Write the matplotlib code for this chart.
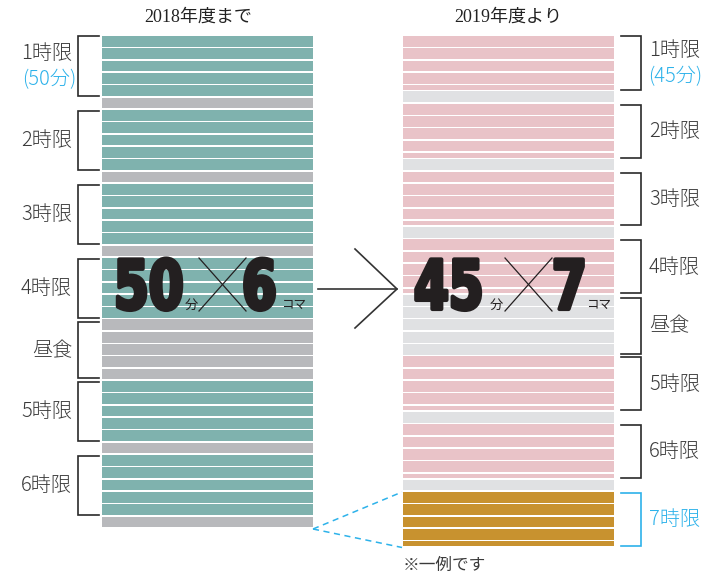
import matplotlib
matplotlib.use("Agg")
import matplotlib.pyplot as plt
from matplotlib.patheffects import AbstractPathEffect
from matplotlib.transforms import Affine2D

plt.rcParams['font.family'] = ['Noto Sans CJK JP', 'DejaVu Sans']

# --- data -------------------------------------------------------------------
old_title = "2018年度まで"
new_title = "2019年度より"

old_kinds = ["class", "break", "class", "break", "class", "break", "class",
             "lunch", "class", "break", "class", "break"]
old_minutes = [50, 10, 50, 10, 50, 10, 50, 50, 50, 10, 50, 10]
old_labels = ["1時限", None, "2時限", None, "3時限", None, "4時限",
              "昼食", "5時限", None, "6時限", None]

new_kinds = ["class", "break", "class", "break", "class", "break", "class",
             "lunch", "class", "break", "class", "break", "extra"]
new_minutes = [45, 10, 45, 10, 45, 10, 45, 50, 45, 10, 45, 10, 45]
new_labels = ["1時限", None, "2時限", None, "3時限", None, "4時限",
              "昼食", "5時限", None, "6時限", None, "7時限"]

old_period_len = "(50分)"
new_period_len = "(45分)"
old_big = ("50", "6")
new_big = ("45", "7")
note = "※一例です"

STRIPE = 10  # minutes per stripe

old_colors = {"class": "#7fb2ae", "break": "#b8b9bc", "lunch": "#b8b9bc"}
new_colors = {"class": "#e9c3c8", "break": "#e0e1e3", "lunch": "#e0e1e3",
              "extra": "#c8922f"}
BLUE = "#2db2ea"
INK = "#3a3a3a"
BLACK = "#231f20"

# layout (x in pixels, y in minutes)
W, H = 715, 573
TOP_PX = 36
K = 1.2325  # pixels per minute
GAP = 1.3   # white line between stripes, minutes
LABEL_FS = 14.5


def py(p):
    """pixel row -> minutes (for decorations)"""
    return (p - TOP_PX) / K


class Stretch(AbstractPathEffect):
    """stretch glyphs vertically + embolden, text stays a real text artist"""

    def __init__(self, sy=1.35, lw=1.5):
        super().__init__()
        self.sy = sy
        self.lw = lw

    def draw_path(self, renderer, gc, tpath, affine, rgbFace=None):
        ox, oy = affine.transform((0, 0))
        aff = affine + Affine2D().translate(-ox, -oy).scale(1, self.sy).translate(ox, oy)
        gc0 = renderer.new_gc()
        gc0.copy_properties(gc)
        gc0.set_linewidth(self.lw)
        gc0.set_foreground(rgbFace)
        gc0.set_joinstyle("round")
        renderer.draw_path(gc0, tpath, aff, rgbFace)
        gc0.restore()


fig = plt.figure(figsize=(W / 100, H / 100), dpi=100)
ax = fig.add_axes([0, 0, 1, 1])
ax.set_xlim(0, W)
ax.set_ylim(py(H), py(0))
ax.axis("off")


def draw_column(x0, x1, kinds, minutes, colors):
    t = 0
    bounds = []
    for kind, m in zip(kinds, minutes):
        s = 0
        while s < m:
            h = min(STRIPE, m - s)
            ax.barh(t + s, x1 - x0, left=x0, height=h - GAP, align="edge",
                    color=colors[kind], linewidth=0)
            s += h
        bounds.append((t, t + m))
        t += m
    return bounds


old_b = draw_column(102, 313, old_kinds, old_minutes, old_colors)
new_b = draw_column(403, 614, new_kinds, new_minutes, new_colors)


def bracket(xv, xt, y0, y1, color):
    ax.plot([xt, xv, xv, xt], [y0, y0, y1, y1], color=color, lw=1.2,
            solid_joinstyle="miter")


def bracket_span(i, kinds, y0, y1):
    if i == 0:
        start = y0 - 0.4
    elif kinds[i - 1] == "class":
        start = y0 + 2.2
    else:
        start = y0 + 0.8
    end = y1 - (2.2 if kinds[i] == "lunch" else GAP)
    return start, end


# left brackets / labels
for i, ((y0, y1), lab) in enumerate(zip(old_b, old_labels)):
    if lab is None:
        continue
    bracket(78, 99, *bracket_span(i, old_kinds, y0, y1), "#2a2a2a")
    yc = (y0 + y1) / 2
    if lab == "1時限":
        ax.text(72, yc - 10.5, lab, ha="right", va="center", fontsize=LABEL_FS,
                color=INK, fontweight="light")
        ax.text(76, yc + 10.5, old_period_len, ha="right", va="center",
                fontsize=LABEL_FS, color=BLUE, fontweight="light")
    else:
        ax.text(72, yc, lab, ha="right", va="center", fontsize=LABEL_FS,
                color=INK, fontweight="light")

# right brackets / labels
for i, ((y0, y1), lab, kind) in enumerate(zip(new_b, new_labels, new_kinds)):
    if lab is None:
        continue
    col = BLUE if kind == "extra" else "#2a2a2a"
    bracket(641, 621, *bracket_span(i, new_kinds, y0, y1), col)
    yc = (y0 + y1) / 2
    tcol = BLUE if kind == "extra" else INK
    if lab == "1時限":
        ax.text(649, yc - 10.5, lab, ha="left", va="center", fontsize=LABEL_FS,
                color=INK, fontweight="light")
        ax.text(648, yc + 10.5, new_period_len, ha="left", va="center",
                fontsize=LABEL_FS, color=BLUE, fontweight="light")
    else:
        ax.text(649, yc, lab, ha="left", va="center", fontsize=LABEL_FS,
                color=tcol, fontweight="light")

# titles
title_font = ["Liberation Serif", "Noto Sans CJK JP"]
ax.text(198, py(17), old_title, ha="center", va="center", fontsize=13,
        family=title_font, color="#222222")
ax.text(508, py(17), new_title, ha="center", va="center", fontsize=13,
        family=title_font, color="#222222")

# big numbers
big_fx = [Stretch(sy=1.36, lw=3.0)]


def big_block(x_num, x_unit, x_cross0, x_cross1, x_count, x_koma, nums):
    base = py(309)
    ax.text(x_num, base, nums[0], ha="left", va="baseline", fontsize=36,
            fontweight="bold", family="DejaVu Sans", color=BLACK,
            path_effects=big_fx)
    ax.text(x_unit, base, "分", ha="left", va="baseline", fontsize=9.5,
            color=BLACK)
    ax.plot([x_cross0, x_cross1], [py(258), py(311)], color=BLACK, lw=0.9)
    ax.plot([x_cross1, x_cross0], [py(258), py(311)], color=BLACK, lw=0.9)
    ax.text(x_count, base, nums[1], ha="left", va="baseline", fontsize=36,
            fontweight="bold", family="DejaVu Sans", color=BLACK,
            path_effects=big_fx)
    ax.text(x_koma, py(308), "コマ", ha="left", va="baseline", fontsize=9,
            color=BLACK)


big_block(114, 185, 199, 246, 242, 281, old_big)
big_block(414, 490, 505, 552, 552, 586, new_big)

# arrow
ax.plot([318, 397], [py(289), py(289)], color="#333333", lw=1.2)
ax.plot([355, 397, 355], [py(249), py(289), py(328)], color="#333333", lw=1.2)

# dashed guide lines to the 7th period
ax.plot([313, 402], [old_b[-1][1], new_b[-1][0]], color=BLUE, lw=1.1,
        ls=(0, (4, 3)))
ax.plot([313, 402], [old_b[-1][1], new_b[-1][1]], color=BLUE, lw=1.1,
        ls=(0, (4, 3)))

ax.text(403, py(565), note, ha="left", va="center", fontsize=12, color=INK)

fig.savefig("out.png", dpi=100)
